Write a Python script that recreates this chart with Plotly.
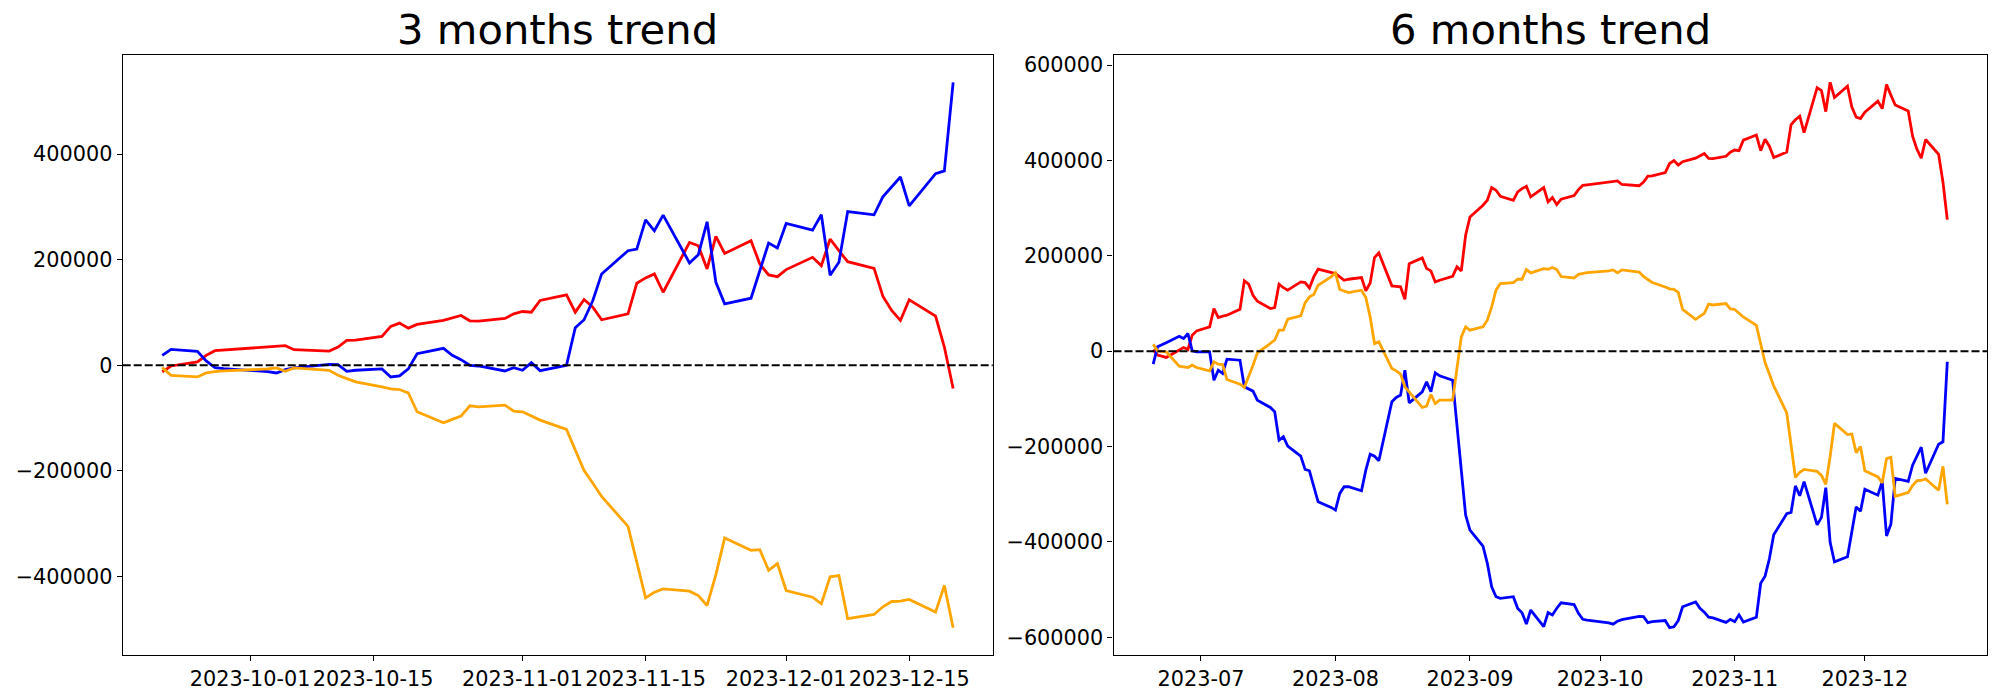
import plotly.graph_objects as go
import pandas as pd

# ---------------- data ----------------
dates_3m = [
    "2023-09-21", "2023-09-22", "2023-09-25", "2023-09-26", "2023-09-27", "2023-09-28",
    "2023-10-03", "2023-10-04", "2023-10-05", "2023-10-06", "2023-10-10", "2023-10-11",
    "2023-10-12", "2023-10-13", "2023-10-16", "2023-10-17", "2023-10-18", "2023-10-19",
    "2023-10-20", "2023-10-23", "2023-10-24", "2023-10-25", "2023-10-26", "2023-10-27",
    "2023-10-30", "2023-10-31", "2023-11-01", "2023-11-02", "2023-11-03", "2023-11-06",
    "2023-11-07", "2023-11-08", "2023-11-09", "2023-11-10", "2023-11-13", "2023-11-14",
    "2023-11-15", "2023-11-16", "2023-11-17", "2023-11-20", "2023-11-21", "2023-11-22",
    "2023-11-23", "2023-11-24", "2023-11-27", "2023-11-28", "2023-11-29", "2023-11-30",
    "2023-12-01", "2023-12-04", "2023-12-05", "2023-12-06", "2023-12-07", "2023-12-08",
    "2023-12-11", "2023-12-12", "2023-12-13", "2023-12-14", "2023-12-15", "2023-12-18",
    "2023-12-19", "2023-12-20",
]

red_3m = [
    -12600, -1300, 6300, 18900, 27700, 28900, 34600, 35900, 37100, 29600, 27000, 34600,
    47200, 47800, 54700, 73600, 79900, 70400, 77400, 84900, 89300, 94400, 84300, 83700,
    88700, 97500, 101900, 100600, 122700, 133400, 100600, 124500, 110000, 86200, 97500, 155300,
    165500, 173000, 138300, 232700, 226400, 182400, 244000, 211900, 235900, 191900, 171100, 167900,
    181200, 204400, 188700, 239100, 217000, 196200, 183600, 130800, 103800, 84900, 124000, 93000,
    34600, -44000,
]
blue_3m = [
    18900, 30200, 26400, 8200, -4400, -6300, -12000, -14500, -8200, -5000, 1900, 1300,
    -11300, -9400, -6900, -22000, -20100, -6900, 22000, 32100, 18900, 10700, 0, -1300,
    -10700, -4400, -9400, 5000, -10100, 0, 71100, 86200, 122600, 173000, 217000, 220000,
    275500, 254700, 284300, 193800, 209500, 271700, 157200, 116400, 127000, 179000, 231500, 222100,
    268500, 256000, 285000, 170400, 195000, 291200, 285000, 318900, 338000, 356600, 301900, 362900,
    368000, 535900,
]
orange_3m = [
    -4400, -18900, -22000, -14500, -11900, -10700, -6900, -5000, -11300, -5000, -9400, -18900,
    -25200, -31400, -40900, -44700, -45900, -52200, -88000, -108800, -102500, -96200, -76700, -78600,
    -75500, -86800, -88000, -96200, -103800, -121400, -161700, -199400, -223300, -248400, -305000, -374200,
    -440300, -429700, -423400, -427700, -435900, -454800, -396300, -327000, -350400, -349100, -388200, -375500,
    -426500, -439100, -451600, -400600, -398200, -479900, -471800, -457300, -447200, -446600, -443400, -467300,
    -417000, -496900,
]

dates_6m_first = [
    "2023-06-20", "2023-06-21", "2023-06-23", "2023-06-26", "2023-06-27", "2023-06-28",
    "2023-06-29", "2023-06-30",
    "2023-07-03", "2023-07-04", "2023-07-05", "2023-07-06", "2023-07-07", "2023-07-10",
    "2023-07-11", "2023-07-12", "2023-07-13", "2023-07-14", "2023-07-17", "2023-07-18",
    "2023-07-19", "2023-07-20", "2023-07-21", "2023-07-24", "2023-07-25", "2023-07-26",
    "2023-07-27", "2023-07-28", "2023-07-31",
    "2023-08-01", "2023-08-02", "2023-08-03", "2023-08-04", "2023-08-07", "2023-08-08",
    "2023-08-09", "2023-08-10", "2023-08-11", "2023-08-14", "2023-08-15", "2023-08-16",
    "2023-08-17", "2023-08-18", "2023-08-21", "2023-08-22", "2023-08-23", "2023-08-24",
    "2023-08-25", "2023-08-28", "2023-08-29", "2023-08-30", "2023-08-31",
    "2023-09-01", "2023-09-04", "2023-09-05", "2023-09-06", "2023-09-07", "2023-09-08",
    "2023-09-11", "2023-09-12", "2023-09-13", "2023-09-14", "2023-09-15", "2023-09-18",
    "2023-09-19", "2023-09-20",
]
dates_6m = dates_6m_first + dates_3m

red_6m = [
    3000, -8000, -13000, 2000, 7700, 3500, 33500, 42600,
    51000, 89400, 70600, 73400, 75500, 88000, 147400, 140400, 117400, 104800, 89400, 91500,
    140400, 133400, 127900, 145300, 143900, 132700, 155800, 171900, 164900,
    162800, 155800, 148800, 150900, 154400, 126500, 143200, 196300, 206100, 137000, 136200, 134900,
    109000, 183700, 195600, 173300, 168400, 145300, 148800, 157200, 176800, 168400, 243100,
    281600, 306000, 316500, 343000, 337500, 324900, 316500, 334000, 341000, 345800, 323500, 343000,
    313000, 322100,
    307400, 318700, 326300, 338900, 347700, 348900, 354600, 355900, 357100, 349600, 347000, 354600,
    367200, 367800, 374700, 393600, 399900, 390400, 397400, 404900, 409300, 414400, 404300, 403700,
    408700, 417500, 421900, 420600, 442700, 453400, 420600, 444500, 430000, 406200, 417500, 475300,
    485500, 493000, 458300, 552700, 546400, 502400, 564000, 531900, 555900, 511900, 491100, 487900,
    501200, 524400, 508700, 559100, 537000, 516200, 503600, 450800, 423800, 404900, 444000, 413000,
    354600, 276000,
]
blue_6m = [
    -27200, 9100, 17500, 31400, 26500, 37000, 700, -1400,
    -1400, -60800, -39800, -46800, -16800, -18900, -74700, -79700, -83800, -102700, -118100, -127100,
    -186500, -179500, -199100, -220100, -248000, -250800, -280900, -315800, -327700,
    -333300, -298300, -284300, -284300, -292700, -249400, -215900, -220100, -229900, -106200, -97100, -92200,
    -39800, -108300, -85200, -64300, -85200, -45400, -51700, -60800, -155000, -250000, -343700,
    -375200, -408700, -445000, -494000, -514900, -518400, -514900, -539400, -548400, -572200, -542900, -577800,
    -548400, -553300,
    -539100, -527800, -531600, -549800, -562400, -564300, -570000, -572500, -566200, -563000, -556100, -556700,
    -569300, -567400, -564900, -580000, -578100, -564900, -536000, -525900, -539100, -547300, -558000, -559300,
    -568700, -562400, -567400, -553000, -568100, -558000, -486900, -471800, -435400, -385000, -341000, -338000,
    -282500, -303300, -273700, -364200, -348500, -286300, -400800, -441600, -431000, -379000, -326500, -335900,
    -289500, -302000, -273000, -387600, -363000, -266800, -273000, -239100, -220000, -201400, -256100, -195100,
    -190000, -22100,
]
orange_6m = [
    14700, 700, -1400, -31400, -32800, -34200, -29300, -34200,
    -41200, -22400, -27200, -28000, -59400, -69200, -76100, -53800, -29300, -3500, 17500, 23100,
    44000, 44000, 67100, 74100, 101300, 113900, 118800, 138300, 155800,
    164200, 129300, 125800, 123000, 127900, 112500, 71900, 16100, 19600, -36300, -41200, -48200,
    -74700, -85200, -118100, -115300, -90800, -109700, -102700, -102700, -30000, 30000, 51000,
    44000, 51000, 65000, 92900, 127900, 141800, 143900, 150900, 150900, 171200, 164200, 173300,
    171900, 175400,
    171100, 156600, 153500, 161000, 163600, 164800, 168600, 170500, 164200, 170500, 166100, 156600,
    150300, 144100, 134600, 130800, 129600, 123300, 87500, 66700, 73000, 79300, 98800, 96900,
    100000, 88700, 87500, 79300, 71700, 54100, 13800, -23900, -47800, -72900, -129500, -198700,
    -264800, -254200, -247900, -252200, -260400, -279300, -220800, -151500, -174900, -173600, -212700, -200000,
    -251000, -263600, -276100, -225100, -222700, -304400, -296300, -281800, -271700, -271100, -267900, -291800,
    -241500, -321400,
]

titles = ["3 months trend", "6 months trend"]
ticks_3m_x = ["2023-10-01", "2023-10-15", "2023-11-01", "2023-11-15", "2023-12-01", "2023-12-15"]
ticks_6m_x = ["2023-07-01", "2023-08-01", "2023-09-01", "2023-10-01", "2023-11-01", "2023-12-01"]
ticks_3m_y = [-400000, -200000, 0, 200000, 400000]
ticks_6m_y = [-600000, -400000, -200000, 0, 200000, 400000, 600000]

# ---------------- figure ----------------
W, H = 2000, 700
FONT = "DejaVu Sans"
LW = 2.8

fig = go.Figure()


def add_series(xs, ys, color, xa, ya):
    fig.add_trace(go.Scatter(x=xs, y=ys, mode="lines", line=dict(color=color, width=LW),
                             xaxis=xa, yaxis=ya, showlegend=False, hoverinfo="skip"))


add_series(dates_3m, red_3m, "red", "x", "y")
add_series(dates_3m, blue_3m, "blue", "x", "y")
add_series(dates_3m, orange_3m, "orange", "x", "y")
add_series(dates_6m, red_6m, "red", "x2", "y2")
add_series(dates_6m, blue_6m, "blue", "x2", "y2")
add_series(dates_6m, orange_6m, "orange", "x2", "y2")


def xrange(ds):
    a, b = pd.Timestamp(ds[0]), pd.Timestamp(ds[-1])
    m = (b - a) * 0.05
    return [(a - m).isoformat(), (b + m).isoformat()]


def yrange(*series):
    lo = min(min(s) for s in series)
    hi = max(max(s) for s in series)
    m = (hi - lo) * 0.05
    return [lo - m, hi + m]


def ylabels(vals):
    return [("\u2212" + str(-v)) if v < 0 else str(v) for v in vals]


axis_common = dict(showline=True, mirror=True, linecolor="black", linewidth=1.1,
                   ticks="outside", ticklen=5, tickwidth=1.1, tickcolor="black",
                   showgrid=False, zeroline=False, automargin=False,
                   tickfont=dict(family=FONT, size=20.8, color="black"))

top_px, bot_px = 55, 655
ydom = [1 - bot_px / H, 1 - top_px / H]

fig.update_layout(
    width=W, height=H,
    margin=dict(l=0, r=0, t=0, b=0),
    paper_bgcolor="white", plot_bgcolor="white",
    xaxis=dict(domain=[122.7 / W, 992.7 / W], type="date", range=xrange(dates_3m),
               tickvals=ticks_3m_x, tickformat="%Y-%m-%d", anchor="y", **axis_common),
    yaxis=dict(domain=ydom, range=yrange(red_3m, blue_3m, orange_3m),
               tickvals=ticks_3m_y, ticktext=ylabels(ticks_3m_y), anchor="x", **axis_common),
    xaxis2=dict(domain=[1113.5 / W, 1987 / W], type="date", range=xrange(dates_6m),
                tickvals=ticks_6m_x, tickformat="%Y-%m", anchor="y2", **axis_common),
    yaxis2=dict(domain=ydom, range=yrange(red_6m, blue_6m, orange_6m),
                tickvals=ticks_6m_y, ticktext=ylabels(ticks_6m_y), anchor="x2", **axis_common),
)

for xa, ya in (("x", "y"), ("x2", "y2")):
    fig.add_shape(type="line", xref=f"{xa} domain", yref=ya, x0=0, x1=1, y0=0, y1=0,
                  line=dict(color="black", width=2, dash="8px,3px"), layer="above")

for xa, t in (("x", titles[0]), ("x2", titles[1])):
    fig.add_annotation(text=t, xref=f"{xa} domain", yref="paper", x=0.5, y=1 - 30 / H,
                       xanchor="center", yanchor="middle", showarrow=False,
                       font=dict(family=FONT, size=41.7, color="black"))

fig.write_html("out.html",
               config={"displayModeBar": False},
               post_script="document.body.style.margin='0';document.body.style.overflow='hidden';")
